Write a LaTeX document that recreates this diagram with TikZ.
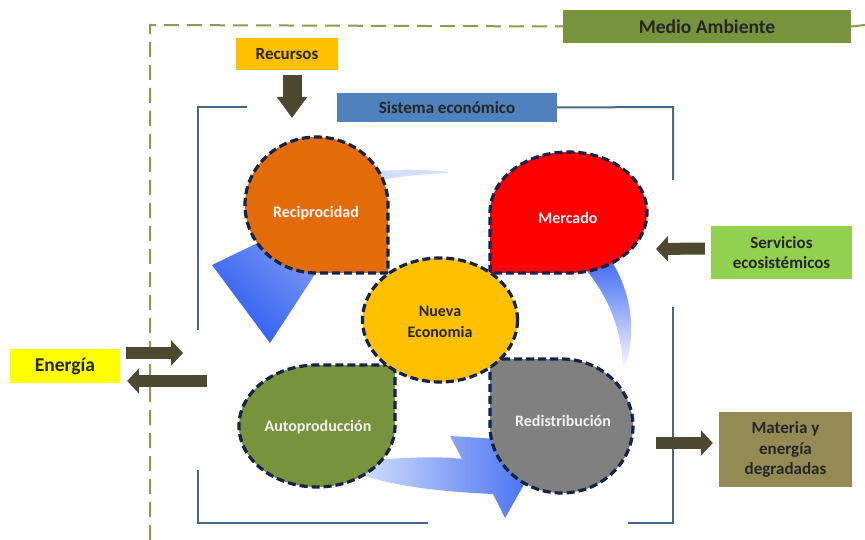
\documentclass[tikz,border=0pt]{standalone}
\usepackage{fontspec}
\setmainfont{Carlito}
\usetikzlibrary{arrows.meta}

\definecolor{olivo}{HTML}{77933C}
\definecolor{borde}{HTML}{8E9A4F}
\definecolor{ambar}{HTML}{FFC000}
\definecolor{flecha}{HTML}{4D4930}
\definecolor{azulsis}{HTML}{4F81BD}
\definecolor{marco}{HTML}{47678A}
\definecolor{naranja}{HTML}{E36C09}
\definecolor{rojo}{HTML}{FF0000}
\definecolor{gris}{HTML}{808080}
\definecolor{contorno}{HTML}{15234B}
\definecolor{amarillo}{HTML}{FFFF00}
\definecolor{verdeclaro}{HTML}{92D050}
\definecolor{pardo}{HTML}{948A54}
\definecolor{azul}{HTML}{3A66F2}
\definecolor{azulclaro}{HTML}{D4DFFA}

\tikzset{
	caja/.style={inner sep=0pt, align=center, text=black!85,
		font=\bfseries\fontsize{17}{20.5}\selectfont},
	bloque/.style={flecha, line width=12pt, -{Triangle[length=12pt,width=25pt]}},
	petalo/.style={draw=contorno, line width=3.2pt, dash pattern=on 8pt off 4pt},
	rotulo/.style={font=\bfseries\fontsize{16}{21}\selectfont, text=white!95!black, align=center},
	linea/.style={marco, line width=2pt}
}

\begin{document}
\begin{tikzpicture}[x=1pt, y=-1pt]
\fill[white] (0,0) rectangle (865,540);
\useasboundingbox (0,0) rectangle (865,540);

% cajas de texto
\node[caja, fill=olivo, minimum width=288pt, minimum height=33pt,
	font=\bfseries\fontsize{19.5}{22}\selectfont] (ambiente) at (707,26.5) {Medio Ambiente};
\node[caja, fill=ambar, minimum width=102pt, minimum height=32pt] (recursos) at (287,54) {Recursos};
\node[caja, fill=azulsis, minimum width=220pt, minimum height=29pt] (sistema) at (447,107.5) {Sistema económico};
\node[caja, fill=amarillo, minimum width=110pt, minimum height=34pt,
	font=\bfseries\fontsize{19.5}{22}\selectfont] (energia) at (65,366) {Energía};
\node[caja, fill=verdeclaro, minimum width=141pt, minimum height=53pt] (servicios) at (781.5,252.5) {Servicios\\ecosistémicos};
\node[caja, fill=pardo, minimum width=133pt, minimum height=75pt] (materia) at (785.5,449.5) {Materia y\\energía\\degradadas};

% medio ambiente y sistema
\draw[borde, line width=2pt, dash pattern=on 15pt off 8pt] (150,540) -- (150,25) -- (ambiente.west);
\draw[borde, line width=2pt] (ambiente.east) -- (865,25);
\draw[linea] (247,107) -- (198,107) -- (198,330);
\draw[linea] (sistema.east) -- (673,107) -- (673,180);
\draw[linea] (673,307) -- (673,523) -- (628,523);
\draw[linea] (428,523) -- (198,523) -- (198,470);

% flechas del ciclo
\shade[top color=azulclaro, bottom color=azul, shading angle=-45]
	(448,172) .. controls (360,162) and (280,185) .. (268,238) -- (212,265) -- (270,343)
	-- (372,187) -- (330,207) .. controls (340,182) and (400,175) .. (448,173) -- cycle;
\shade[left color=azulclaro, right color=azul]
	(358,462) .. controls (400,457) and (440,456) .. (462,459) -- (450,436) -- (548,442)
	-- (505,518) -- (493,494) .. controls (450,492) and (400,488) .. (358,474) -- cycle;
\shade[top color=azul, bottom color=white]
	(580,262) .. controls (603,290) and (622,320) .. (623,372)
	.. controls (638,335) and (632,290) .. (608,256) -- cycle;

% petalos
\filldraw[petalo, fill=naranja] (388,273) -- (316.5,273)
	arc[start angle=90, end angle=360, x radius=71.5, y radius=68] -- cycle;
\filldraw[petalo, fill=rojo] (490,273) -- (490,212.5)
	arc[start angle=180, end angle=450, x radius=78.5, y radius=60.5] -- cycle;
\filldraw[petalo, fill=olivo] (395,365) -- (395,426)
	arc[start angle=0, end angle=270, x radius=78, y radius=61] -- cycle;
\filldraw[petalo, fill=gris] (490,359) -- (561.5,359)
	arc[start angle=270, end angle=540, x radius=71.5, y radius=67] -- cycle;
\filldraw[petalo, fill=ambar] (440,320) ellipse [x radius=77.5, y radius=62];

\node[rotulo] (reciprocidad) at (316,213) {Reciprocidad};
\node[rotulo] (mercado) at (568,218) {Mercado};
\node[rotulo] (autoproduccion) at (318,427) {Autoproducción};
\node[rotulo] (redistribucion) at (563,421) {Redistribución};
\node[rotulo, text=black!85] (nueva) at (440,322) {Nueva\\Economia};

% flujos
\coordinate (entrada) at (292,118);
\coordinate (ene_in) at (183,353);
\coordinate (ene_out) at (207,381);
\coordinate (serv_fin) at (656,249);
\coordinate (mat_ini) at (656,443);
\draw[flecha, line width=19pt, -{Triangle[length=21pt,width=29pt]}]
	([xshift=5pt,yshift=-5pt]recursos.south) -- (entrada);
\draw[bloque] ([xshift=6pt,yshift=13pt]energia.east) -- (ene_in);
\draw[bloque] (ene_out) -- ([xshift=7pt,yshift=-15pt]energia.east);
\draw[bloque] ([xshift=-6pt,yshift=4pt]servicios.west) -- (serv_fin);
\draw[bloque] (mat_ini) -- ([xshift=-6pt,yshift=6.5pt]materia.west);
\end{tikzpicture}
\end{document}
